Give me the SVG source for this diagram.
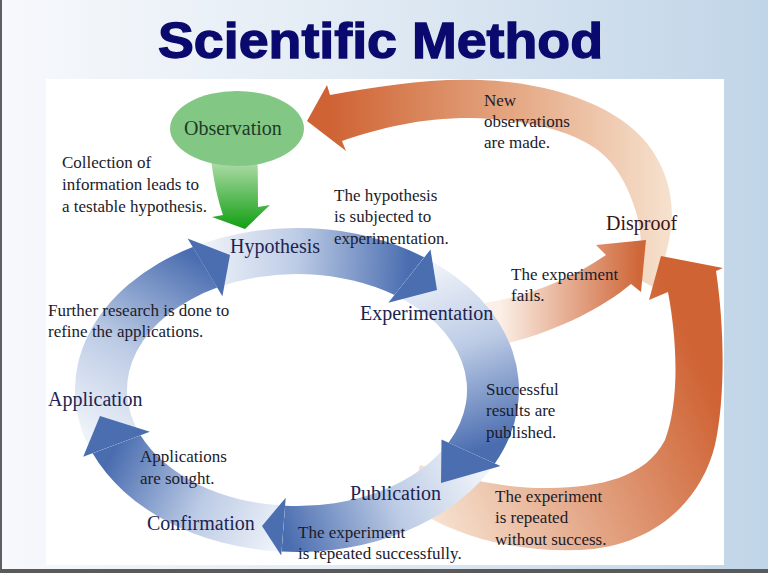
<svg xmlns="http://www.w3.org/2000/svg" width="768" height="573" viewBox="0 0 768 573">
<defs>
<linearGradient id="bg" x1="0" y1="0" x2="1" y2="0">
<stop offset="0" stop-color="#f7f9fc"/><stop offset="0.45" stop-color="#e2ebf4"/><stop offset="1" stop-color="#c1d5e8"/>
</linearGradient>
<linearGradient id="g1" gradientUnits="userSpaceOnUse" x1="205" y1="267" x2="409" y2="276"><stop offset="0" stop-color="#eef2f9"/><stop offset="0.45" stop-color="#bccbe5"/><stop offset="1" stop-color="#4a6db0"/></linearGradient>
<linearGradient id="g2" gradientUnits="userSpaceOnUse" x1="409" y1="276" x2="472" y2="453"><stop offset="0" stop-color="#eef2f9"/><stop offset="0.45" stop-color="#bccbe5"/><stop offset="1" stop-color="#4a6db0"/></linearGradient>
<linearGradient id="g3" gradientUnits="userSpaceOnUse" x1="472" y1="453" x2="283" y2="529"><stop offset="0" stop-color="#eef2f9"/><stop offset="0.45" stop-color="#bccbe5"/><stop offset="1" stop-color="#4a6db0"/></linearGradient>
<linearGradient id="g4" gradientUnits="userSpaceOnUse" x1="283" y1="529" x2="117" y2="444"><stop offset="0" stop-color="#eef2f9"/><stop offset="0.45" stop-color="#bccbe5"/><stop offset="1" stop-color="#4a6db0"/></linearGradient>
<linearGradient id="g5" gradientUnits="userSpaceOnUse" x1="100" y1="440" x2="205" y2="262"><stop offset="0" stop-color="#eef2f9"/><stop offset="0.45" stop-color="#bccbe5"/><stop offset="1" stop-color="#4a6db0"/></linearGradient>
<linearGradient id="oA" gradientUnits="userSpaceOnUse" x1="330" y1="0" x2="670" y2="0"><stop offset="0" stop-color="#cf6334"/><stop offset="0.5" stop-color="#e3a27c"/><stop offset="1" stop-color="#f6e1ce"/></linearGradient>
<linearGradient id="oB" gradientUnits="userSpaceOnUse" x1="500" y1="0" x2="640" y2="0"><stop offset="0" stop-color="#fbefe6"/><stop offset="1" stop-color="#cf6638"/></linearGradient>
<linearGradient id="oC" gradientUnits="userSpaceOnUse" x1="430" y1="515" x2="712" y2="390"><stop offset="0" stop-color="#f6e2d0"/><stop offset="1" stop-color="#cf6334"/></linearGradient>
<linearGradient id="gr" gradientUnits="userSpaceOnUse" x1="0" y1="160" x2="0" y2="228"><stop offset="0" stop-color="#b2ddac"/><stop offset="1" stop-color="#14a014"/></linearGradient>
<style>
.t{font-family:"Liberation Serif","DejaVu Serif",serif;font-size:17px;fill:#1b1b2b}
.l{font-family:"Liberation Serif","DejaVu Serif",serif;font-size:20px;fill:#1c2452}
.hd{fill:#4b6eb1}
</style>
</defs>
<rect width="768" height="573" fill="url(#bg)"/>
<rect x="0" y="0" width="2" height="573" fill="#5f5f5f"/>
<rect x="0" y="569" width="768" height="4" fill="#5a5a5a"/>
<rect x="46" y="79" width="678" height="486" fill="#ffffff"/>
<text x="380.5" y="58" text-anchor="middle" textLength="445" lengthAdjust="spacingAndGlyphs" style="font-family:'Liberation Sans',Arial,sans-serif;font-weight:bold;font-size:50px;fill:#0a0a6e;stroke:#0a0a6e;stroke-width:1.3">Scientific Method</text>

<g id="connectors">
<path id="newobs" fill="url(#oA)" d="M330,95 C380,86 430,78 480,80 C560,83 625,110 652,150 C672,180 676,212 668,245 C664,262 660,275 655,288 L640,280 C642,252 642,232 636,212 C628,185 615,162 595,148 C565,128 520,119 470,118 C420,118 380,128 342,141 L346,151 L307,121 L327,85 Z"/>
<path id="fails" fill="url(#oB)" d="M485,303 C525,297 570,280 606,255 L596,245 L646,240 L641,292 L631,284 C600,310 550,335 488,348 Z"/>
<path id="repeatfail" fill="url(#oC)" d="M410,505 C450,535 510,552 580,550 C650,547 700,505 715,445 C725,400 725,330 716,271 L723,268 L661,256 L649,300 L668,292 C677,340 680,400 665,440 C645,478 600,487 550,488 C500,489 450,475 420,465 Z"/>
<path id="b1" fill="url(#g1)" d="M192.8,247.0 A222,162 0 0 1 424.3,257.3 L394.5,295.0 A170,116 0 0 0 217.2,287.6 Z"/>
<path id="b2" fill="url(#g2)" d="M424.3,257.3 A222,162 0 0 1 494.8,463.5 L448.5,442.7 A170,116 0 0 0 394.5,295.0 Z"/>
<path id="b3" fill="url(#g3)" d="M494.8,463.5 A222,162 0 0 1 281.5,551.6 L285.1,505.7 A170,116 0 0 0 448.5,442.7 Z"/>
<path id="b4" fill="url(#g4)" d="M281.5,551.6 A222,162 0 0 1 92.6,453.3 L140.5,435.3 A170,116 0 0 0 285.1,505.7 Z"/>
<path id="b5" fill="url(#g5)" d="M92.6,453.3 A222,162 0 0 1 192.8,247.0 L217.2,287.6 A170,116 0 0 0 140.5,435.3 Z"/>
<polygon class="hd" points="430.5,249.5 437,290 388.3,302.8"/>
<polygon class="hd" points="500.5,466 441,483 441.5,439.5"/>
<polygon class="hd" points="281.2,555.6 262,526 285.7,497.7"/>
<polygon class="hd" points="83.2,456.8 100,416 149.9,431.8"/>
<polygon class="hd" points="187.6,238.5 230,255 222.4,296.2"/>
<path id="collect" fill="url(#gr)" d="M210,150 C213,180 218,200 223,215 L212,217 L245,229 L270,205 L258,207 C258,190 258,170 257,150 Z"/>
</g>

<g id="observation">
<ellipse cx="237" cy="128.5" rx="67" ry="37.5" fill="#83c785"/>
<text class="l" x="184" y="135" style="fill:#1d3b25">Observation</text>
</g>
<g id="hypothesis"><text class="l" x="230" y="253">Hypothesis</text></g>
<g id="experimentation"><text class="l" x="360" y="320">Experimentation</text></g>
<g id="publication"><text class="l" x="350" y="500">Publication</text></g>
<g id="confirmation"><text class="l" x="147" y="530">Confirmation</text></g>
<g id="application"><text class="l" x="48" y="406">Application</text></g>
<g id="disproof"><text class="l" x="606" y="230" style="fill:#3a1414">Disproof</text></g>

<g id="annotations">
<text class="t" x="62" y="168">Collection of</text>
<text class="t" x="62" y="190">information leads to</text>
<text class="t" x="62" y="212">a testable hypothesis.</text>
<text class="t" x="334" y="201">The hypothesis</text>
<text class="t" x="334" y="222">is subjected to</text>
<text class="t" x="334" y="244">experimentation.</text>
<text class="t" x="484" y="106">New</text>
<text class="t" x="484" y="127">observations</text>
<text class="t" x="484" y="148">are made.</text>
<text class="t" x="511" y="280">The experiment</text>
<text class="t" x="511" y="301">fails.</text>
<text class="t" x="48" y="316">Further research is done to</text>
<text class="t" x="48" y="337">refine the applications.</text>
<text class="t" x="486" y="395">Successful</text>
<text class="t" x="486" y="416">results are</text>
<text class="t" x="486" y="438">published.</text>
<text class="t" x="140" y="462">Applications</text>
<text class="t" x="140" y="484">are sought.</text>
<text class="t" x="495" y="502">The experiment</text>
<text class="t" x="495" y="523">is repeated</text>
<text class="t" x="495" y="545">without success.</text>
<text class="t" x="298" y="538">The experiment</text>
<text class="t" x="298" y="559">is repeated successfully.</text>
</g>
</svg>
